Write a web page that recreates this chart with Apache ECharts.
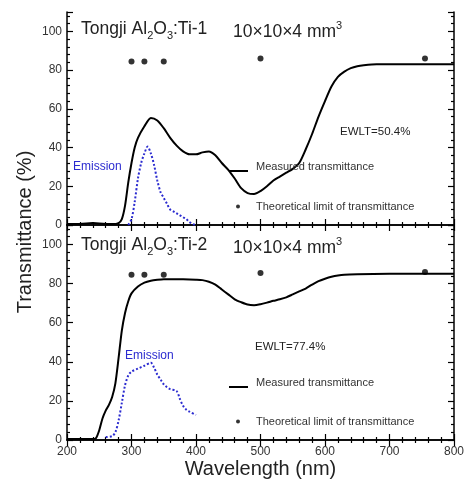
<!DOCTYPE html>
<html><head><meta charset="utf-8">
<script src="https://cdn.jsdelivr.net/npm/echarts@6/dist/echarts.min.js"></script>
<style>html,body{margin:0;padding:0;background:#fff}#c{width:471px;height:491px}</style>
</head><body><div id="c"></div>
<script>
// ---- data ----
const xTicks = [200, 300, 400, 500, 600, 700, 800];
const yTicks = [0, 20, 40, 60, 80, 100];

// Panel 1: Tongji Al2O3:Ti-1
const wl1 = [200,220,240,260,270,280,285,290,295,300,305,310,320,330,340,350,360,370,380,390,400,410,420,430,440,450,460,470,480,490,500,510,520,530,540,550,560,570,580,590,600,610,620,630,640,650,660,680,700,720,740,760,780,800];
const trans1 = [0.5,0.5,1,0.5,0.5,1,3,10,22,32,40,45,51,55.3,54,50,45,41,38,36.5,36.5,37.5,38,36,32,28.5,24,19,16.5,16,17.5,20,23,25,27,29,32,39,47,56,64,71.5,76.5,79.2,81,82,82.5,83,83,83,83,83,83,83];
const emWl1 = [295,300,305,310,315,320,325,330,335,340,345,350,355,360,365,370,375,380,385,390,395,400];
const emis1 = [0,3,12,24,32,37,40.5,37,31,23,17,14,11,8,7,6,5,4,3,1.5,0.5,0];
const theoWl1 = [300,320,350,500,755];
const theo1 = [84.5,84.5,84.5,86,86];

// Panel 2: Tongji Al2O3:Ti-2
const wl2 = [200,220,240,245,250,255,260,265,270,275,280,285,290,295,300,310,320,330,340,350,360,380,400,410,420,430,440,450,460,470,480,490,500,510,520,530,540,550,560,570,580,590,600,610,620,630,650,700,750,800];
const trans2 = [0.5,0.5,0.5,1,5,11,15,18,22,29,42,56,65,71,75,78.5,80.5,81.5,82,82.3,82.3,82.2,82,81.8,81,79.5,77,74.5,72,70.5,69.3,69,69.5,70.3,71.2,72,73,74.5,76,77.5,79.5,81.3,82.5,83.5,84.2,84.6,84.8,85,85,85];
const emWl2 = [260,270,275,280,285,290,295,300,310,320,330,335,340,345,350,355,360,370,375,380,385,390,400];
const emis2 = [1.5,2,4,10,19,28,33,35,36.5,38,39.5,37,33.5,31,28.5,27,26,25,21,17.5,15.5,14.5,12.8];
const theoWl2 = [300,320,350,500,755];
const theo2 = [84.5,84.5,84.5,85.5,86];

const zip = (a, b) => a.map((v, i) => [v, b[i]]);

// ---- styles ----
const FONT = 'Liberation Sans, Arial, sans-serif';
const BLUE = '#2b2bd0';
const axisLineStyle = { show: true, lineStyle: { color: '#000', width: 1.5 } };
const tickStyle = { show: true, inside: true, length: 6, lineStyle: { color: '#000', width: 1.2 } };
const minorStyle = { show: true, length: 3, lineStyle: { color: '#000', width: 1.2 } };
const LINE_ICON = 'path://M0,0 L19,0 L19,2 L0,2 Z';

function xAx(grid, pos, labels) {
  return {
    type: 'value', gridIndex: grid, position: pos, min: 200, max: 800, interval: 100,
    axisLine: axisLineStyle, axisTick: tickStyle, minorTick: minorStyle,
    splitLine: { show: false }, minorSplitLine: { show: false },
    axisLabel: labels ? { show: true, margin: 6, color: '#333', fontSize: 12, fontFamily: FONT } : { show: false }
  };
}
function yAx(grid, pos, labels) {
  return {
    type: 'value', gridIndex: grid, position: pos, min: 0, max: 110, interval: 20,
    axisLine: axisLineStyle, axisTick: tickStyle, minorTick: minorStyle,
    splitLine: { show: false }, minorSplitLine: { show: false },
    axisLabel: labels ? { show: true, margin: 5, color: '#333', fontSize: 12, fontFamily: FONT, showMaxLabel: false } : { show: false }
  };
}

const xa3 = xAx(1, 'bottom', true);
xa3.name = 'Wavelength (nm)';
xa3.nameLocation = 'middle';
xa3.nameGap = 19;
xa3.nameTextStyle = { fontSize: 20, color: '#222', fontFamily: FONT };

function titleText(left, top, suffix) {
  return {
    type: 'text', left: left, top: top,
    style: {
      text: '{n|Tongji Al}{sub|2}{n|O}{sub|3}{n|:Ti-' + suffix + '}',
      rich: {
        n: { fontSize: 17.5, fontFamily: FONT, fill: '#222', lineHeight: 24, verticalAlign: 'middle' },
        sub: { fontSize: 11, fontFamily: FONT, fill: '#222', lineHeight: 24, verticalAlign: 'bottom' }
      }
    }
  };
}
function sizeText(left, top) {
  return {
    type: 'text', left: left, top: top,
    style: {
      text: '{n|10\u00d710\u00d74 mm}{sup|3}',
      rich: {
        n: { fontSize: 17.5, fontFamily: FONT, fill: '#222', lineHeight: 24, verticalAlign: 'middle' },
        sup: { fontSize: 11, fontFamily: FONT, fill: '#222', lineHeight: 24, verticalAlign: 'top' }
      }
    }
  };
}
function plainText(left, top, txt, size, color) {
  return { type: 'text', left: left, top: top, style: { text: txt, fontSize: size, fontFamily: FONT, fill: color } };
}
const raisedText = {
  fontSize: 11, color: '#333', fontFamily: FONT,
  rich: { t: { fontSize: 11, color: '#333', fontFamily: FONT, padding: [0, 0, 9, 3] } }
};

const option = {
  animation: false,
  backgroundColor: '#fff',
  grid: [
    { left: 67, right: 17, top: 12, height: 213 },
    { left: 67, right: 17, top: 225, height: 215 }
  ],
  xAxis: [xAx(0, 'bottom', false), xAx(0, 'top', false), xa3, xAx(1, 'top', false)],
  yAxis: [yAx(0, 'left', true), yAx(0, 'right', false), yAx(1, 'left', true), yAx(1, 'right', false)],
  legend: [
    { data: [{ name: 'Measured transmittance', icon: LINE_ICON }], left: 229, top: 161, padding: 0, itemWidth: 19, itemHeight: 2,
      formatter: '{t|{name}}', textStyle: raisedText, selectedMode: false },
    { data: [{ name: 'Theoretical limit of transmittance', icon: 'circle' }], left: 236, top: 201, padding: 0, itemWidth: 4, itemHeight: 4,
      textStyle: { fontSize: 11, color: '#333', fontFamily: FONT, padding: [0, 0, 0, 11] }, selectedMode: false },
    { data: [{ name: 'Measured transmittance', icon: LINE_ICON }], left: 229, top: 377, padding: 0, itemWidth: 19, itemHeight: 2,
      formatter: '{t|{name}}', textStyle: raisedText, selectedMode: false },
    { data: [{ name: 'Theoretical limit of transmittance', icon: 'circle' }], left: 236, top: 416, padding: 0, itemWidth: 4, itemHeight: 4,
      textStyle: { fontSize: 11, color: '#333', fontFamily: FONT, padding: [0, 0, 0, 11] }, selectedMode: false }
  ],
  graphic: [
    titleText(81, 20, '1'), sizeText(233, 20),
    titleText(81, 236, '2'), sizeText(233, 236),
    plainText(73, 161, 'Emission', 12, BLUE),
    plainText(125, 350, 'Emission', 12, BLUE),
    plainText(340, 126, 'EWLT=50.4%', 11.5, '#222'),
    plainText(255, 341, 'EWLT=77.4%', 11.5, '#222'),
    { type: 'text', x: 25, y: 232, rotation: Math.PI / 2,
      style: { text: 'Transmittance (%)', fontSize: 20, fontFamily: FONT, fill: '#222', align: 'center', verticalAlign: 'middle' } }
  ],
  series: [
    { name: 'Measured transmittance', type: 'line', xAxisIndex: 0, yAxisIndex: 0, data: zip(wl1, trans1),
      showSymbol: false, symbol: 'none', smooth: 0.25, lineStyle: { color: '#000', width: 2 }, itemStyle: { color: '#000' } },
    { name: 'Emission1', type: 'line', xAxisIndex: 0, yAxisIndex: 0, data: zip(emWl1, emis1),
      showSymbol: false, symbol: 'none', smooth: 0.3, lineStyle: { color: BLUE, width: 2, type: [2, 2] } },
    { name: 'Theoretical limit of transmittance', type: 'scatter', xAxisIndex: 0, yAxisIndex: 0, data: zip(theoWl1, theo1),
      symbol: 'circle', symbolSize: 6, itemStyle: { color: '#000' } },
    { name: 'Measured transmittance', type: 'line', xAxisIndex: 2, yAxisIndex: 2, data: zip(wl2, trans2),
      showSymbol: false, symbol: 'none', smooth: 0.25, lineStyle: { color: '#000', width: 2 }, itemStyle: { color: '#000' } },
    { name: 'Emission2', type: 'line', xAxisIndex: 2, yAxisIndex: 2, data: zip(emWl2, emis2),
      showSymbol: false, symbol: 'none', smooth: 0.3, lineStyle: { color: BLUE, width: 2, type: [2, 2] } },
    { name: 'Theoretical limit of transmittance', type: 'scatter', xAxisIndex: 2, yAxisIndex: 2, data: zip(theoWl2, theo2),
      symbol: 'circle', symbolSize: 6, itemStyle: { color: '#000' } }
  ]
};
const chart = echarts.init(document.getElementById('c'), null, { renderer: 'canvas' });
chart.setOption(option);
</script></body></html>
